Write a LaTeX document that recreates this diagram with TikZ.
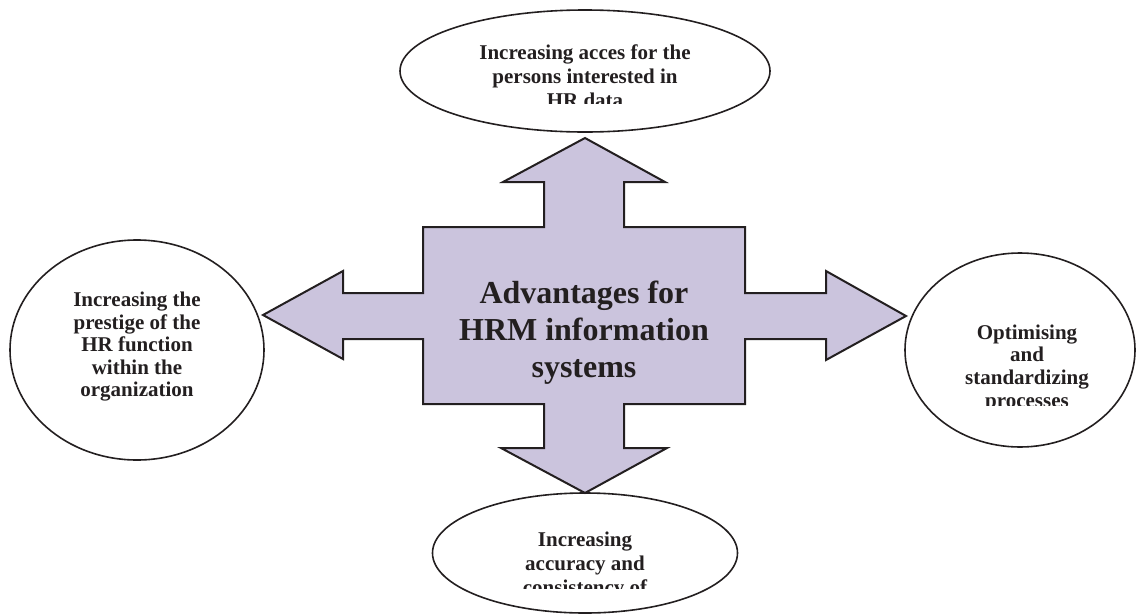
\documentclass[tikz,border=0pt]{standalone}
\usepackage{fontspec}
\setmainfont{Liberation Serif}
\usetikzlibrary{shapes.geometric}

\definecolor{crossfill}{RGB}{203,196,221}
\definecolor{inkgray}{RGB}{35,31,32}

\begin{document}
\begin{tikzpicture}[x=1pt, y=-1pt,
    bubble/.style={draw=inkgray, line width=1.6pt, ellipse, inner sep=0pt},
    bubbletext/.style={align=center, inner sep=0pt, text=inkgray,
        font=\fontsize{21}{#1}\selectfont\bfseries},
    bubbletext/.default=24]
                \useasboundingbox (0,0) rectangle (1136,614);

                % four-way arrow
                \draw[fill=crossfill, draw=inkgray, line width=2pt, line join=miter]
                    (544,227) -- (544,182) -- (503,182) -- (585,138) -- (665,182) -- (624,182)
                    -- (624,227) -- (745,227) -- (745,293) -- (826,293) -- (826,271)
                    -- (906,316) -- (826,360) -- (826,339) -- (745,339) -- (745,404)
                    -- (624,404) -- (624,448) -- (667,448) -- (585,493) -- (501,448)
                    -- (544,448) -- (544,404) -- (423,404) -- (423,339) -- (343,339)
                    -- (343,359) -- (263,315) -- (343,271) -- (343,293) -- (423,293)
                    -- (423,227) -- cycle;

                \node[align=center, inner sep=0pt, text=inkgray,
                      font=\fontsize{32}{37}\selectfont\bfseries] (hub) at (584,333)
                    {Advantages for\\HRM information\\systems};

                % ellipses
                \node[bubble, minimum width=370pt, minimum height=122pt] (access) at (585,71) {};
                \node[bubble, minimum width=254pt, minimum height=220pt] (prestige) at (137,350) {};
                \node[bubble, minimum width=230pt, minimum height=194pt] (optimise) at (1020,350) {};
                \node[bubble, minimum width=305pt, minimum height=120pt] (accuracy) at (585,553) {};

                % texts, the last lines cut off
                \begin{scope}
                    \clip (400,10) rectangle (770,103);
                    \node[bubbletext] (accesstext) at (585,76)
                        {Increasing acces for the\\persons interested in\\HR data};
                \end{scope}

                \node[bubbletext=22.5] (prestigetext) at (137,347)
                    {Increasing the\\prestige of the\\HR function\\within the\\organization};

                \begin{scope}
                    \clip (906,253) rectangle (1136,405);
                    \node[bubbletext=22.7] (optimisetext) at (1027,368)
                        {Optimising\\and\\standardizing\\processes};
                \end{scope}

                \begin{scope}
                    \clip (433,493) rectangle (738,588);
                    \node[bubbletext] (accuracytext) at (585,565)
                        {Increasing\\accuracy and\\consistency of};
                \end{scope}
            \end{tikzpicture}
\end{document}
